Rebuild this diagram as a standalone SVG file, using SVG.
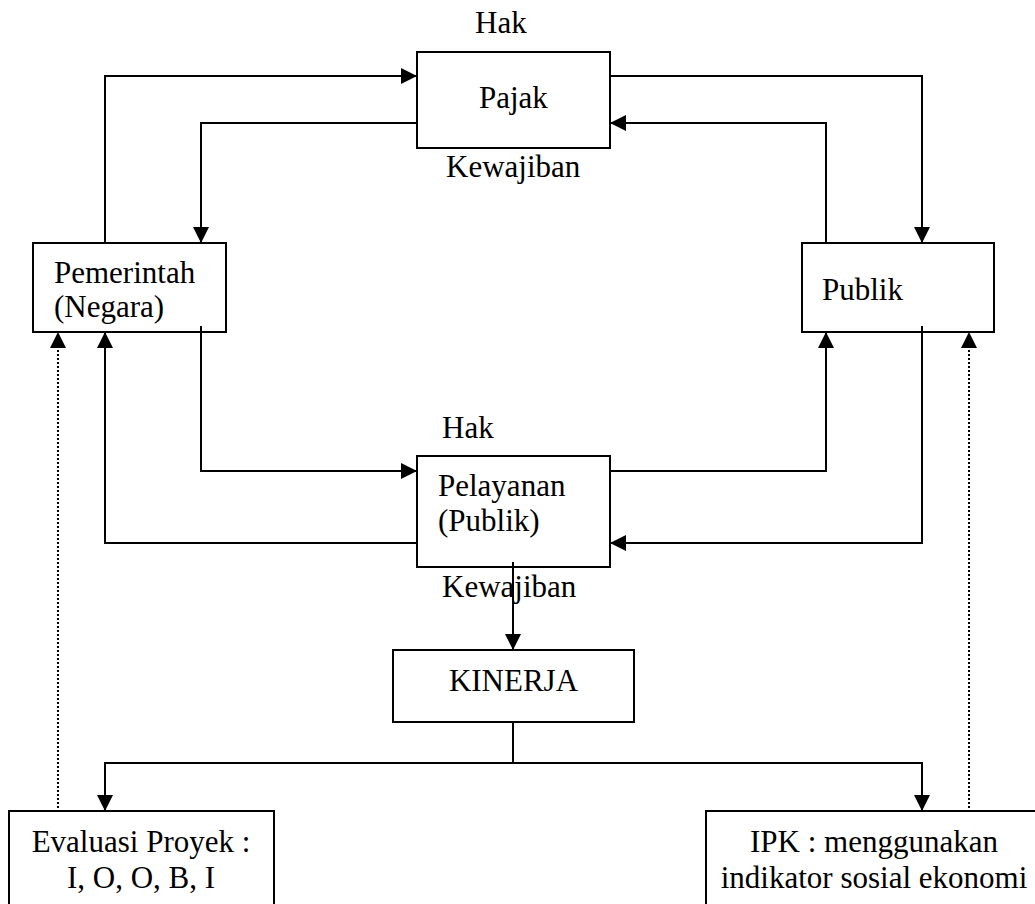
<svg xmlns="http://www.w3.org/2000/svg" width="1035" height="904" viewBox="0 0 1035 904">
<style>
.box{fill:#fff;stroke:#000;stroke-width:2}
text{font-family:'Liberation Serif','Times New Roman','DejaVu Serif',serif;font-size:31px;fill:#000}
.c{text-anchor:middle}
.ln{fill:none;stroke:#000;stroke-width:2}
.dot{fill:none;stroke:#000;stroke-width:2;stroke-dasharray:2 2}
</style>
<defs>
<marker id="ah" markerUnits="userSpaceOnUse" markerWidth="17" markerHeight="16" refX="16" refY="8" orient="auto" viewBox="0 0 17 16">
<path d="M0,0 L16,8 L0,16 Z" fill="#000"/>
</marker>
</defs>
<rect width="1035" height="904" fill="#fff"/>
<g id="pajak">
<rect class="box" x="417" y="52" width="193" height="96"/>
<text x="479" y="108">Pajak</text>
</g>
<g id="pemerintah">
<rect class="box" x="33" y="243" width="193" height="89"/>
<text x="54" y="283">Pemerintah</text>
<text x="54" y="317">(Negara)</text>
</g>
<g id="publik">
<rect class="box" x="802" y="243" width="192" height="89"/>
<text x="822" y="300">Publik</text>
</g>
<g id="pelayanan">
<rect class="box" x="417" y="456" width="193" height="111"/>
<text x="438" y="496">Pelayanan</text>
<text x="438" y="531">(Publik)</text>
</g>
<g id="kinerja">
<rect class="box" x="393" y="650" width="241" height="72"/>
<text class="c" x="513.5" y="691">KINERJA</text>
</g>
<g id="evaluasi">
<rect class="box" x="9" y="811" width="265" height="110"/>
<text class="c" x="141" y="852">Evaluasi Proyek :</text>
<text class="c" x="141" y="888">I, O, O, B, I</text>
</g>
<g id="ipk">
<rect class="box" x="706" y="811" width="350" height="110"/>
<text class="c" x="874" y="852">IPK : menggunakan</text>
<text class="c" x="874" y="888">indikator sosial ekonomi</text>
</g>
<g id="labels">
<text x="475" y="33">Hak</text>
<text x="446" y="177">Kewajiban</text>
<text x="442" y="438">Hak</text>
<text x="442" y="597">Kewajiban</text>
</g>
<g id="connectors">
<path class="ln" d="M105,243 V76 H417" marker-end="url(#ah)"/>
<path class="ln" d="M417,123 H201 V243" marker-end="url(#ah)"/>
<path class="ln" d="M610,76 H922 V243" marker-end="url(#ah)"/>
<path class="ln" d="M826,243 V123 H610" marker-end="url(#ah)"/>
<path class="ln" d="M201,326 V471 H417" marker-end="url(#ah)"/>
<path class="ln" d="M417,543 H105 V332" marker-end="url(#ah)"/>
<path class="ln" d="M610,471 H826 V332" marker-end="url(#ah)"/>
<path class="ln" d="M922,326 V543 H610" marker-end="url(#ah)"/>
<path class="ln" d="M513,562 V650" marker-end="url(#ah)"/>
<path class="ln" d="M513,722 V763"/>
<path class="ln" d="M513,763 H105 V811" marker-end="url(#ah)"/>
<path class="ln" d="M513,763 H922 V811" marker-end="url(#ah)"/>
<path class="dot" d="M58,808 V345"/>
<path d="M50,348 L58,332 L66,348 Z" fill="#000"/>
<path class="dot" d="M969,808 V345"/>
<path d="M961,348 L969,332 L977,348 Z" fill="#000"/>
</g>
</svg>
